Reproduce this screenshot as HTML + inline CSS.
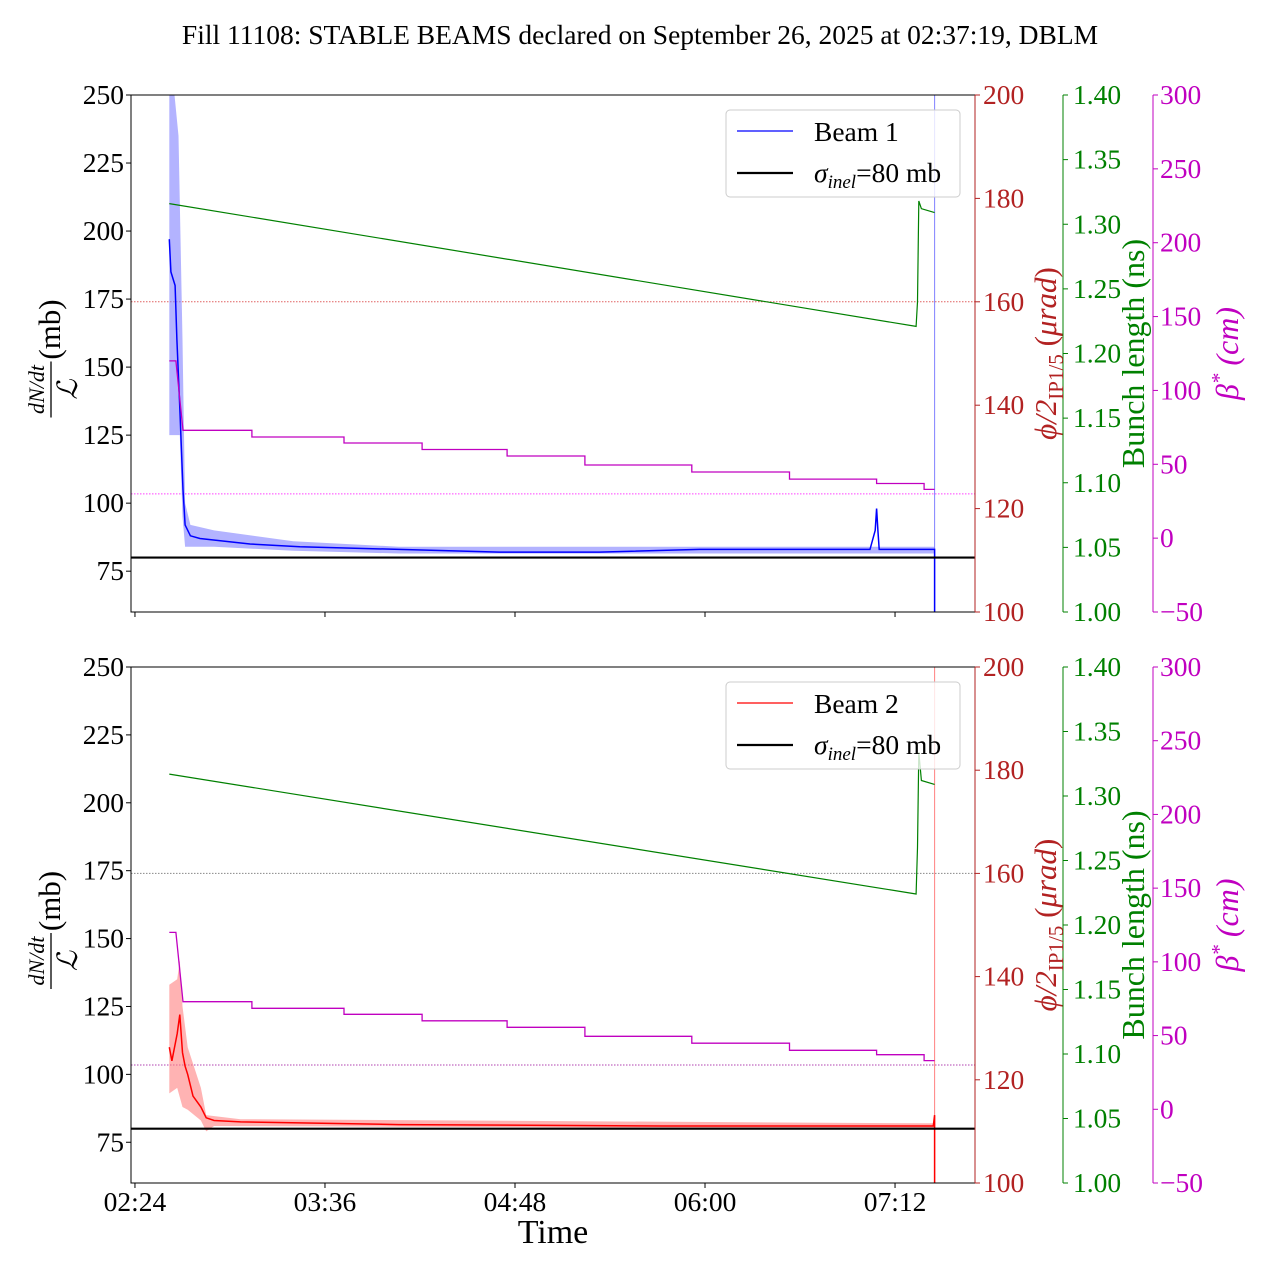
<!DOCTYPE html>
<html><head><meta charset="utf-8">
<style>
html,body{margin:0;padding:0;background:#fff;}
svg{display:block;font-family:"Liberation Serif","DejaVu Serif",serif;}
</style></head>
<body>
<svg id="chart" width="1280" height="1280" viewBox="0 0 1280 1280" xmlns="http://www.w3.org/2000/svg">
<text x="640" y="44" font-size="27.5" text-anchor="middle">Fill 11108: STABLE BEAMS declared on September 26, 2025 at 02:37:19, DBLM</text>
</svg>
<script>
// ---- data (time in minutes after 02:24) ----
const timeTickLabels = ["02:24","03:36","04:48","06:00","07:12"];
const timeTickMinutes = [0,72,144,216,288];
const leftTicks = [75,100,125,150,175,200,225,250];
const redTicks = [100,120,140,160,180,200];
const greenTicks = [1.00,1.05,1.10,1.15,1.20,1.25,1.30,1.35,1.40];
const magTicks = [-50,0,50,100,150,200,250,300];

const b1T    = [13,13.6,15.2,15.9,17,18.2,19,21,24.6,43.6,62.5,100,138,176,214,252,278.5,280.5,281,281.5,282,301,303,303];
const b1V    = [197,185,180,160,135,105,92,88,87,85,84,83,82,82,83,83,83,90,98,90,83,83,83,60];
const b1UpT  = [13,15,16.5,18,19,21,30,60,100,300,303];
const b1Up   = [250,250,235,160,100,92,90,86,84,84,84];
const b1LoT  = [13,17,18,19,30,60,100,300,303];
const b1Lo   = [125,125,95,84,84,82.5,81.5,81.5,81.5];

const b2T    = [13,14,16,17,18,19,20,22,25,27,30,40,100,200,300,302.5,303,303];
const b2V    = [110,105,115,122,108,103,100,92,88,84,83,82.5,81.5,81,81,81,85,60];
const b2UpT  = [13,16,17,18,20,25,27,40,300,303];
const b2Up   = [133,135,142,125,110,95,85,83.5,82,82];
const b2LoT  = [13,16,18,20,25,27,30,300,303];
const b2Lo   = [93,95,88,87,83,79,81,80,80];

const sigmaInel = 80;
const crossingRef = 160;
const betaRef = 30;

const bunchT1 = [13,296,296.5,297,298,303];
const bunchV1 = [1.316,1.221,1.24,1.318,1.312,1.309];
const bunchT2 = [13,296,296.5,297,298,303];
const bunchV2 = [1.317,1.224,1.26,1.334,1.312,1.309];

const betaStepT = [13,15.5,18.2,44.3,79.2,108.8,141,170.5,211,248,281,299,303];
const betaStepV = [120,120,73,68.5,64.4,60,55.6,49.5,44.8,40,37,33,33];

// ---- layout ----
const NS="http://www.w3.org/2000/svg";
const svg=document.getElementById('chart');
const X0=131,X1=975, T0=-1.5, T1=318.3;
const FS=27.5;
function xs(t){return X0+(t-T0)/(T1-T0)*(X1-X0);}
function mk(tag,attrs,parent){const e=document.createElementNS(NS,tag);for(const k in attrs)e.setAttribute(k,attrs[k]);(parent||svg).appendChild(e);return e;}
function txt(s,attrs,parent){const e=mk('text',attrs,parent);e.textContent=s;return e;}

const panels=[
 {top:95,bot:612,name:'beam1',col:'#0000ff',band:'#8080ff',T:b1T,V:b1V,UT:b1UpT,U:b1Up,LT:b1LoT,L:b1Lo,bT:bunchT1,bV:bunchV1,label:'Beam 1',ref1:'#e06060',ref2:'#ff40ff',xlabels:false},
 {top:667,bot:1183,name:'beam2',col:'#ff0000',band:'#ff8080',T:b2T,V:b2V,UT:b2UpT,U:b2Up,LT:b2LoT,L:b2Lo,bT:bunchT2,bV:bunchV2,label:'Beam 2',ref1:'#888888',ref2:'#b040b0',xlabels:true}
];

panels.forEach(p=>{
  const g=mk('g',{});
  
  
  const yL=v=>p.bot-(v-60)/(250-60)*(p.bot-p.top);
  const yR=v=>p.bot-(v-100)/100*(p.bot-p.top);
  const yG=v=>p.bot-(v-1.0)/0.4*(p.bot-p.top);
  const yM=v=>p.bot-(v+50)/350*(p.bot-p.top);
  let l=mk('line',{x1:X0,x2:X1,y1:yR(crossingRef),y2:yR(crossingRef),stroke:p.ref1,'stroke-width':1,'stroke-dasharray':'1.5,1.5'},g);
  
  
  l=mk('line',{x1:X0,x2:X1,y1:yM(betaRef),y2:yM(betaRef),stroke:p.ref2,'stroke-width':1,'stroke-dasharray':'1.5,1.5'},g);
  
  
  let d='';
  p.UT.forEach((t,i)=>{d+=(i?'L':'M')+xs(t).toFixed(1)+','+yL(p.U[i]).toFixed(1);});
  for(let i=p.LT.length-1;i>=0;i--) d+='L'+xs(p.LT[i]).toFixed(1)+','+yL(p.L[i]).toFixed(1);
  l=mk('path',{d:d+'Z',fill:p.band,'fill-opacity':0.6,stroke:'none'},g);
  
  
  l=mk('line',{x1:xs(303),x2:xs(303),y1:p.top,y2:p.bot,stroke:p.band,'stroke-width':1},g);
  
  
  d='';p.T.forEach((t,i)=>{d+=(i?'L':'M')+xs(t).toFixed(1)+','+yL(p.V[i]).toFixed(1);});
  l=mk('path',{d:d,fill:'none',stroke:p.col,'stroke-width':1.5},g);
  
  
  l=mk('line',{x1:X0,x2:X1,y1:yL(sigmaInel),y2:yL(sigmaInel),stroke:'#000','stroke-width':2.2},g);
  
  
  d='';p.bT.forEach((t,i)=>{d+=(i?'L':'M')+xs(t).toFixed(1)+','+yG(p.bV[i]).toFixed(1);});
  l=mk('path',{d:d,fill:'none',stroke:'#008000','stroke-width':1.2},g);
  
  
  d='';betaStepT.forEach((t,i)=>{
    const x=xs(t).toFixed(1),y=yM(betaStepV[i]).toFixed(1);
    if(i===0)d+='M'+x+','+y;
    else if(i===2)d+='L'+x+','+y;
    else d+='L'+x+','+yM(betaStepV[i-1]).toFixed(1)+'L'+x+','+y;
  });
  l=mk('path',{d:d,fill:'none',stroke:'#c000c0','stroke-width':1.3},g);
  
  
  l=mk('rect',{x:X0,y:p.top,width:X1-X0,height:p.bot-p.top,fill:'none',stroke:'#000','stroke-width':1},g);
  
  
  leftTicks.forEach(v=>{
    mk('line',{x1:X0-5,x2:X0,y1:yL(v),y2:yL(v),stroke:'#000'},g);
    const t=txt(String(v),{x:X0-7,y:yL(v)+9,'font-size':FS,'text-anchor':'end'},g);
    
    
  });
  redTicks.forEach(v=>{
    mk('line',{x1:X1,x2:X1+5,y1:yR(v),y2:yR(v),stroke:'#b22222'},g);
    const t=txt(String(v),{x:X1+8,y:yR(v)+9,'font-size':FS,fill:'#b22222'},g);
    
    
  });
  mk('line',{x1:X1,x2:X1,y1:p.top,y2:p.bot,stroke:'#b22222'},g);
  const GX=1063;
  l=mk('line',{x1:GX,x2:GX,y1:p.top,y2:p.bot,stroke:'#008000'},g);
  
  
  greenTicks.forEach(v=>{
    mk('line',{x1:GX,x2:GX+5,y1:yG(v),y2:yG(v),stroke:'#008000'},g);
    const t=txt(v.toFixed(2),{x:GX+10,y:yG(v)+9,'font-size':FS,fill:'#008000'},g);
    
    
  });
  const MX=1153;
  l=mk('line',{x1:MX,x2:MX,y1:p.top,y2:p.bot,stroke:'#c000c0'},g);
  
  
  magTicks.forEach(v=>{
    mk('line',{x1:MX,x2:MX+5,y1:yM(v),y2:yM(v),stroke:'#c000c0'},g);
    const t=txt(v<0?'\u2212'+Math.abs(v):String(v),{x:MX+7,y:yM(v)+9,'font-size':FS,fill:'#c000c0'},g);
    
    
  });
  timeTickMinutes.forEach((m,i)=>{
    mk('line',{x1:xs(m),x2:xs(m),y1:p.bot,y2:p.bot+5,stroke:'#000'},g);
    if(p.xlabels){
      const t=txt(timeTickLabels[i],{x:xs(m),y:p.bot+28,'font-size':FS,'text-anchor':'middle'},g);
      
      
    }
  });
  const cy=(p.top+p.bot)/2;
  const la=mk('g',{transform:'translate(60,'+(cy+6)+') rotate(-90)'},g);
  
  
  txt('dN/dt',{x:-30,y:-16,'font-size':22,'font-style':'italic','text-anchor':'middle'},la);
  mk('line',{x1:-58,x2:-2,y1:-9,y2:-9,stroke:'#000','stroke-width':1.3},la);
  txt('\u2112',{x:-30,y:17,'font-size':28,'font-style':'italic','text-anchor':'middle'},la);
  txt('(mb)',{x:30,y:0,'font-size':31,'text-anchor':'middle'},la);
  let t=txt('',{transform:'translate(1056,'+cy+') rotate(-90)','font-size':31,fill:'#b22222','text-anchor':'middle'},g);
  t.innerHTML='<tspan font-style="italic">\u03d5/2</tspan><tspan font-size="21" dy="7">IP1/5</tspan><tspan dy="-7"> (</tspan><tspan font-style="italic">\u03bcrad</tspan>)';
  
  
  t=txt('Bunch length (ns)',{transform:'translate(1144,'+cy+') rotate(-90)','font-size':32,fill:'#008000','text-anchor':'middle'},g);
  
  
  t=txt('',{transform:'translate(1238,'+cy+') rotate(-90)','font-size':32,fill:'#c000c0','text-anchor':'middle','font-style':'italic'},g);
  t.innerHTML='\u03b2<tspan font-size="21" dy="-12">*</tspan><tspan dy="12"> (cm)</tspan>';
  
  
  const lg=mk('g',{},g);
  
  
  const ly=p.top+15;
  mk('rect',{x:726,y:ly,width:234,height:87,rx:4,fill:'#fff','fill-opacity':0.8,stroke:'#ccc'},lg);
  let e=mk('line',{x1:737,x2:793,y1:ly+21,y2:ly+21,stroke:p.col,'stroke-width':1.2},lg);
  
  
  txt(p.label,{x:814,y:ly+31,'font-size':FS},lg);
  e=mk('line',{x1:737,x2:793,y1:ly+63,y2:ly+63,stroke:'#000','stroke-width':2.2},lg);
  
  
  const s=txt('',{x:814,y:ly+72,'font-size':FS},lg);
  s.innerHTML='<tspan font-style="italic">\u03c3</tspan><tspan font-style="italic" font-size="19" dy="6">inel</tspan><tspan dy="-6">=80 mb</tspan>';
});
const xl=txt('Time',{x:553,y:1243,'font-size':34,'text-anchor':'middle'});


</script>
</body></html>
